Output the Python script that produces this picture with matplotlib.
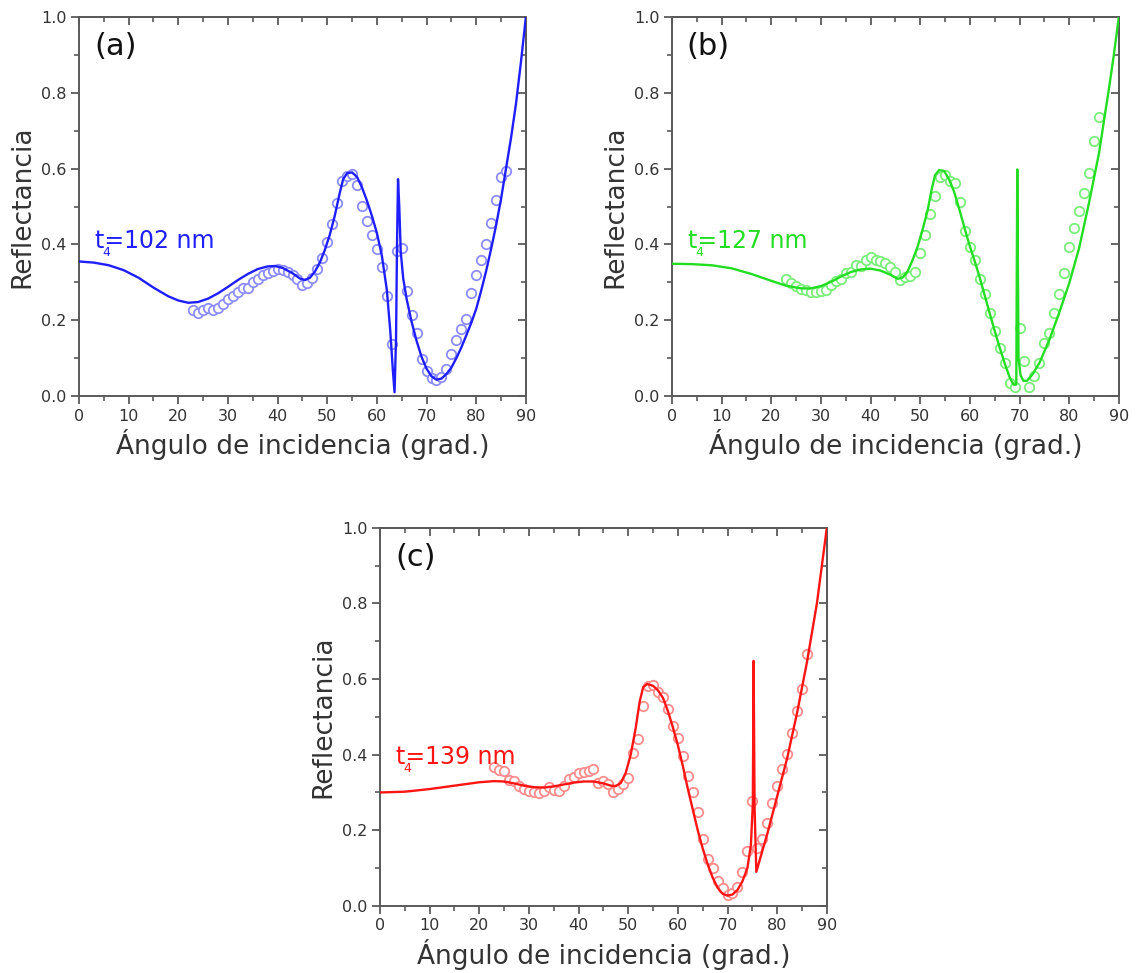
import matplotlib
matplotlib.use("Agg")
import matplotlib.pyplot as plt
from matplotlib.ticker import MultipleLocator

# ── measured reflectance (open circles), one point per degree ─────────
ang_exp = list(range(23, 87))

refl_exp_a = [0.227, 0.220, 0.227, 0.231, 0.227, 0.233, 0.242, 0.255, 0.265, 0.275,
              0.285, 0.286, 0.300, 0.309, 0.318, 0.325, 0.330, 0.334, 0.332, 0.327,
              0.318, 0.309, 0.294, 0.299, 0.312, 0.334, 0.365, 0.407, 0.453, 0.510,
              0.567, 0.580, 0.587, 0.556, 0.501, 0.463, 0.424, 0.388, 0.340, 0.264,
              0.136, 0.382, 0.391, 0.277, 0.213, 0.167, 0.097, 0.066, 0.048, 0.042,
              0.050, 0.070, 0.110, 0.148, 0.176, 0.202, 0.271, 0.318, 0.360, 0.402,
              0.457, 0.516, 0.577, 0.593]

refl_exp_b = [0.309, 0.299, 0.290, 0.283, 0.279, 0.274, 0.274, 0.277, 0.281, 0.294,
              0.303, 0.308, 0.325, 0.327, 0.346, 0.343, 0.359, 0.366, 0.360, 0.356,
              0.350, 0.341, 0.327, 0.305, 0.314, 0.316, 0.327, 0.378, 0.426, 0.481,
              0.529, 0.578, 0.584, 0.567, 0.561, 0.512, 0.435, 0.393, 0.358, 0.308,
              0.270, 0.220, 0.171, 0.127, 0.086, 0.035, 0.025, 0.180, 0.092, 0.025,
              0.053, 0.088, 0.141, 0.167, 0.220, 0.268, 0.325, 0.393, 0.444, 0.488,
              0.536, 0.589, 0.672, 0.736]

refl_exp_c = [0.367, 0.359, 0.357, 0.333, 0.330, 0.317, 0.308, 0.304, 0.301, 0.298,
              0.304, 0.315, 0.306, 0.304, 0.317, 0.335, 0.341, 0.352, 0.355, 0.357,
              0.361, 0.326, 0.330, 0.322, 0.300, 0.308, 0.322, 0.339, 0.405, 0.441,
              0.530, 0.581, 0.584, 0.566, 0.552, 0.520, 0.476, 0.445, 0.396, 0.344,
              0.301, 0.247, 0.178, 0.123, 0.101, 0.066, 0.046, 0.030, 0.033, 0.051,
              0.090, 0.145, 0.278, 0.154, 0.176, 0.218, 0.271, 0.317, 0.361, 0.401,
              0.456, 0.515, 0.574, 0.665]

# ── calculated reflectance (solid lines) ──────────────────────────────
ang_fit_a = [0, 3, 6, 9, 12, 15, 18, 20, 22, 24, 26, 28, 30, 32, 34, 36, 38, 39.5,
             41, 43, 44.5, 45.5, 46.5, 47.5, 48.5, 49.5, 50.5, 51.5, 52.5, 53.2, 54,
             55, 56, 57, 58, 59, 60, 61, 62, 62.7, 63.2, 63.55, 63.85, 64.05, 64.25,
             64.5, 64.8, 65.3, 66, 67, 68, 69, 70, 71, 72, 73, 74, 75, 76, 77, 78,
             79, 80, 81, 82, 83, 84, 85, 86, 87, 88, 89, 90]
refl_fit_a = [0.355, 0.352, 0.345, 0.332, 0.312, 0.286, 0.263, 0.252, 0.246, 0.248,
              0.257, 0.271, 0.288, 0.306, 0.322, 0.335, 0.342, 0.343, 0.338, 0.324,
              0.310, 0.306, 0.312, 0.328, 0.352, 0.385, 0.425, 0.475, 0.535, 0.572,
              0.588, 0.590, 0.578, 0.550, 0.515, 0.475, 0.430, 0.370, 0.280, 0.170,
              0.070, 0.010, 0.150, 0.400, 0.572, 0.500, 0.380, 0.310, 0.255, 0.195,
              0.145, 0.103, 0.072, 0.052, 0.043, 0.046, 0.058, 0.075, 0.100, 0.128,
              0.160, 0.193, 0.230, 0.278, 0.330, 0.388, 0.450, 0.520, 0.600, 0.680,
              0.770, 0.880, 1.000]

ang_fit_b = [0, 4, 8, 12, 16, 20, 23, 26, 28, 30, 32, 34, 36, 38, 40, 42, 44, 45.5,
             46.5, 47.5, 48.5, 49.5, 50.5, 51.5, 52.3, 53, 53.8, 54.8, 55.8, 56.8,
             58, 59, 60, 61, 62, 63, 64, 65, 66, 67, 68, 68.8, 69.35, 69.55, 69.8,
             70.2, 70.8, 71.5, 72.5, 74, 76, 78, 80, 82, 84, 86, 88, 89, 90]
refl_fit_b = [0.349, 0.348, 0.345, 0.337, 0.322, 0.304, 0.291, 0.284, 0.284, 0.290,
              0.301, 0.315, 0.327, 0.334, 0.336, 0.331, 0.320, 0.309, 0.313, 0.330,
              0.360, 0.395, 0.440, 0.490, 0.545, 0.583, 0.596, 0.594, 0.572, 0.540,
              0.487, 0.440, 0.395, 0.355, 0.312, 0.265, 0.218, 0.172, 0.128, 0.087,
              0.050, 0.030, 0.030, 0.598, 0.100, 0.055, 0.040, 0.040, 0.055, 0.087,
              0.148, 0.220, 0.297, 0.390, 0.510, 0.640, 0.810, 0.900, 1.000]

ang_fit_c = [0, 5, 10, 15, 20, 23, 25, 27, 29, 31, 33, 35, 37, 39, 41, 43, 45, 46.5,
             47.5, 48.5, 49.5, 50.5, 51.5, 52.3, 53, 53.8, 55, 56, 57, 58, 59, 60,
             61, 62, 63, 64, 65, 66, 67, 68, 69, 70, 71, 72, 73, 74, 74.7, 75.1,
             75.25, 75.45, 75.8, 77, 78, 80, 82, 84, 86, 88, 90]
refl_fit_c = [0.300, 0.302, 0.309, 0.318, 0.327, 0.330, 0.329, 0.324, 0.318, 0.314,
              0.313, 0.316, 0.321, 0.326, 0.329, 0.329, 0.324, 0.318, 0.317, 0.325,
              0.352, 0.400, 0.470, 0.540, 0.578, 0.587, 0.582, 0.570, 0.550, 0.515,
              0.472, 0.425, 0.370, 0.310, 0.255, 0.200, 0.152, 0.110, 0.075, 0.048,
              0.032, 0.027, 0.030, 0.042, 0.065, 0.100, 0.160, 0.270, 0.648, 0.260,
              0.090, 0.145, 0.190, 0.290, 0.390, 0.510, 0.645, 0.800, 1.000]

panels = [
    # tag, thickness label, line colour, marker colour, axes rect, data, label height
    ("(a)", "=102 nm", "#1e1eff", "#8c8cff", [0.0695, 0.593, 0.393, 0.3895],
     ang_fit_a, refl_fit_a, refl_exp_a, 0.39),
    ("(b)", "=127 nm", "#22dd22", "#7aef7a", [0.591, 0.593, 0.393, 0.3895],
     ang_fit_b, refl_fit_b, refl_exp_b, 0.39),
    ("(c)", "=139 nm", "#ff1414", "#ff8c8c", [0.3342, 0.069, 0.393, 0.3885],
     ang_fit_c, refl_fit_c, refl_exp_c, 0.375),
]

AX_GREY = "#5a5a5a"
TXT_GREY = "#333333"

fig = plt.figure(figsize=(11.37, 9.73), dpi=100)

for tag, lab, lc, mc, rect, xf, yf, ye, ylab in panels:
    ax = fig.add_axes(rect)
    ax.plot(ang_exp, ye, "o", ms=6.8, mfc="white", mec=mc, mew=1.3, zorder=2)
    ax.plot(xf, yf, "-", color=lc, lw=1.7, zorder=3)

    ax.set_xlim(0, 90)
    ax.set_ylim(0, 1.0)
    ax.xaxis.set_major_locator(MultipleLocator(10))
    ax.xaxis.set_minor_locator(MultipleLocator(5))
    ax.yaxis.set_major_locator(MultipleLocator(0.2))
    ax.yaxis.set_minor_locator(MultipleLocator(0.1))
    ax.yaxis.set_major_formatter(matplotlib.ticker.FormatStrFormatter("%.1f"))
    ax.tick_params(which="major", direction="out", length=6, width=1.3,
                   color=AX_GREY, labelsize=11.5, labelcolor=TXT_GREY, pad=3)
    ax.tick_params(which="minor", direction="out", length=3.5, width=1.2,
                   color=AX_GREY)
    for sp in ax.spines.values():
        sp.set_color(AX_GREY)
        sp.set_linewidth(1.4)

    # inward ticks on the top and right frame
    top = ax.secondary_xaxis("top")
    top.xaxis.set_major_locator(MultipleLocator(10))
    top.xaxis.set_minor_locator(MultipleLocator(5))
    top.tick_params(which="major", direction="in", length=6, width=1.3,
                    color=AX_GREY, labeltop=False)
    top.tick_params(which="minor", direction="in", length=3.5, width=1.2,
                    color=AX_GREY)
    top.spines["top"].set_color(AX_GREY)
    top.spines["top"].set_linewidth(1.4)
    right = ax.secondary_yaxis("right")
    right.yaxis.set_major_locator(MultipleLocator(0.2))
    right.yaxis.set_minor_locator(MultipleLocator(0.1))
    right.tick_params(which="major", direction="in", length=6, width=1.3,
                      color=AX_GREY, labelright=False)
    right.tick_params(which="minor", direction="in", length=3.5, width=1.2,
                      color=AX_GREY)
    right.spines["right"].set_color(AX_GREY)
    right.spines["right"].set_linewidth(1.4)

    ax.set_xlabel("Ángulo de incidencia (grad.)", fontsize=19, color=TXT_GREY,
                  labelpad=4)
    ax.set_ylabel("Reflectancia", fontsize=19, color=TXT_GREY, labelpad=4)

    ax.text(3.0, 0.90, tag, fontsize=22, color="#111111", va="baseline")
    ax.text(3.2, ylab, "t" + lab, fontsize=17, color=lc, va="baseline")
    # subscript 4 tucked under the "t"
    ax.annotate("4", xy=(3.2, ylab), xytext=(5.5, -5.5), textcoords="offset points",
                fontsize=9, color=lc, va="baseline")

fig.savefig("out.png", dpi=100)
